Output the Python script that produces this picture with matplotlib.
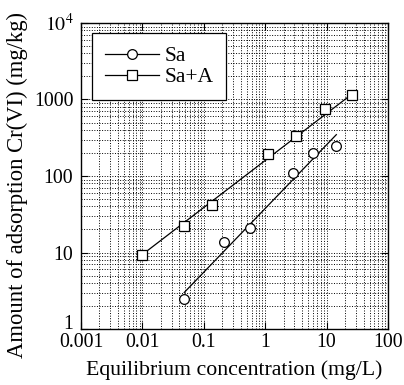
import matplotlib
matplotlib.use("Agg")
import matplotlib.pyplot as plt
import matplotlib.transforms as mtransforms
import numpy as np
from matplotlib.ticker import LogLocator, FixedLocator, FixedFormatter, NullFormatter

plt.rcParams['font.family'] = ['Liberation Serif', 'DejaVu Serif']
plt.rcParams['mathtext.fontset'] = 'stix'

# Sa (circles)
sa_x = [0.048, 0.21, 0.56, 2.8, 5.9, 14.4]
sa_y = [2.45, 13.7, 20.8, 108, 202, 250]
# Sa+A (squares)
saa_x = [0.0098, 0.048, 0.138, 1.1, 3.2, 9.4, 25.6]
saa_y = [9.2, 22.3, 42, 195, 333, 760, 1150]

# fitted lines (end points)
sa_fit_x = [0.048, 14.4]
sa_fit_y = [3.0, 347]
saa_fit_x = [0.0098, 25.6]
saa_fit_y = [9.3, 1170]

xticks = [0.001, 0.01, 0.1, 1, 10, 100]
xticklabels = ['0.001', '0.01', '0.1', '1', '10', '100']
yticks = [1, 10, 100, 1000, 10000]
yticklabels = ['1', '10', '100', '1000', r'$10^4$']

W, H = 404, 385
fig = plt.figure(figsize=(W / 100, H / 100), dpi=100)
ax = fig.add_axes([81 / W, (H - 329) / H, 307 / W, 306 / H])
ax.set_xscale('log')
ax.set_yscale('log')
ax.set_xlim(0.001, 100)
ax.set_ylim(1, 10000)

ax.plot(sa_fit_x, sa_fit_y, color='black', lw=0.9, zorder=3)
ax.plot(saa_fit_x, saa_fit_y, color='black', lw=0.9, zorder=3)
ax.plot(sa_x, sa_y, ls='none', marker='o', ms=7, mfc='white', mec='black', mew=0.9, zorder=4)
ax.plot(saa_x, saa_y, ls='none', marker='s', ms=7, mfc='white', mec='black', mew=0.9, zorder=4)

# legend handles
h1, = ax.plot([], [], color='black', lw=0.9, marker='o', ms=7, mfc='white', mec='black', mew=0.9)
h2, = ax.plot([], [], color='black', lw=0.9, marker='s', ms=7, mfc='white', mec='black', mew=0.9)
leg = ax.legend([h1, h2], ['Sa', 'Sa+A'], loc='upper left', fontsize=15.5,
                handlelength=2.5, handletextpad=0.25, borderpad=0.6, labelspacing=0.05,
                borderaxespad=0, fancybox=False, framealpha=1, edgecolor='black',
                bbox_to_anchor=(0.036, 0.967))
leg.get_frame().set_linewidth(0.9)
leg.set_zorder(5)

ax.xaxis.set_major_locator(FixedLocator(xticks))
ax.xaxis.set_major_formatter(FixedFormatter(xticklabels))
ax.yaxis.set_major_locator(FixedLocator(yticks))
ax.yaxis.set_major_formatter(FixedFormatter(yticklabels))
ax.xaxis.set_minor_locator(LogLocator(base=10, subs=np.arange(2, 10), numticks=20))
ax.yaxis.set_minor_locator(LogLocator(base=10, subs=np.arange(2, 10), numticks=20))
ax.xaxis.set_minor_formatter(NullFormatter())
ax.yaxis.set_minor_formatter(NullFormatter())

ax.tick_params(which='major', direction='in', top=True, right=True, length=5, width=0.8,
               labelsize=14.3)
ax.tick_params(axis='x', which='major', pad=3)
ax.tick_params(axis='y', which='major', pad=5.5)
ax.tick_params(which='minor', length=0)
ax.grid(True, which='both', ls=':', lw=0.7, color='black')
ax.set_axisbelow(True)

for s in ax.spines.values():
    s.set_linewidth(1.0)

ax.set_xlabel('Equilibrium concentration (mg/L)', fontsize=15.7)
ax.set_ylabel('Amount of adsorption Cr(VI) (mg/kg)', fontsize=16.3)
ax.xaxis.set_label_coords(0.5, -(370 - 329) / 306, transform=ax.transAxes)
ax.xaxis.label.set_va('center')
ax.yaxis.set_label_coords(-(81 - 17.5) / 307, (329 - 185) / 306, transform=ax.transAxes)
ax.yaxis.label.set_va('center')

# lift the bottom "1" label a little, as in the original, so it clears "0.001"
fig.canvas.draw()
lbl = ax.yaxis.get_majorticklabels()[0]
lbl.set_transform(lbl.get_transform() + mtransforms.ScaledTranslation(0, 5 / 72, fig.dpi_scale_trans))

fig.savefig('out.png', dpi=100)
